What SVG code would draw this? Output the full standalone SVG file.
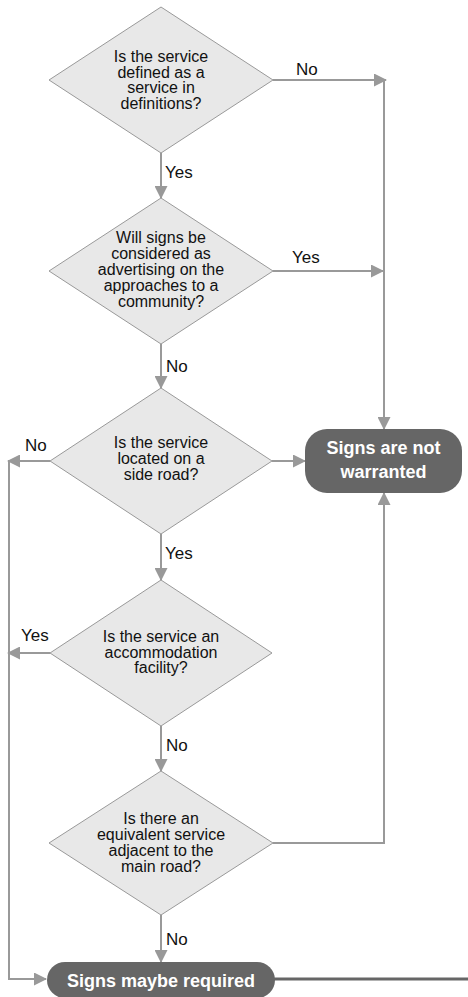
<svg xmlns="http://www.w3.org/2000/svg" width="468" height="997" viewBox="0 0 468 997">
<style>
.dia{fill:#e8e8e8;stroke:#999;stroke-width:1}
.dt{font-family:"Liberation Sans",Arial,sans-serif;font-size:16px;fill:#111;text-anchor:middle}
.term{fill:#666}
.tt{font-family:"Liberation Sans",Arial,sans-serif;font-size:18px;font-weight:bold;fill:#fff;text-anchor:middle}
.lbl{font-family:"Liberation Sans",Arial,sans-serif;font-size:17px;fill:#111}
.con{fill:none;stroke:#999;stroke-width:2}
</style>
<defs>
<marker id="ah" markerUnits="userSpaceOnUse" markerWidth="13" markerHeight="13" refX="12" refY="6.5" orient="auto">
<path d="M0,0 L13,6.5 L0,13 z" fill="#999"/>
</marker>
</defs>
<rect width="468" height="997" fill="#fff"/>
<g id="connectors">
<line class="con" x1="273" y1="80" x2="386" y2="80" marker-end="url(#ah)"/>
<line class="con" x1="161" y1="153" x2="161" y2="198" marker-end="url(#ah)"/>
<line class="con" x1="273" y1="271" x2="383" y2="271" marker-end="url(#ah)"/>
<line class="con" x1="384" y1="79" x2="384" y2="429" marker-end="url(#ah)"/>
<line class="con" x1="161" y1="344" x2="161" y2="388" marker-end="url(#ah)"/>
<line class="con" x1="272" y1="461" x2="305" y2="461" marker-end="url(#ah)"/>
<line class="con" x1="50" y1="461" x2="8" y2="461" marker-end="url(#ah)"/>
<polyline class="con" points="9,461 9,979 46,979" marker-end="url(#ah)"/>
<line class="con" x1="161" y1="534" x2="161" y2="580" marker-end="url(#ah)"/>
<line class="con" x1="50" y1="653" x2="8" y2="653" marker-end="url(#ah)"/>
<line class="con" x1="161" y1="726" x2="161" y2="771" marker-end="url(#ah)"/>
<polyline class="con" points="273,843 384,843 384,493" marker-end="url(#ah)"/>
<line class="con" x1="161" y1="915" x2="161" y2="962" marker-end="url(#ah)"/>
<line x1="274" y1="979" x2="468" y2="979" stroke="#666" stroke-width="3"/>
<text class="lbl" x="296" y="75">No</text>
<text class="lbl" x="165" y="178">Yes</text>
<text class="lbl" x="292" y="263">Yes</text>
<text class="lbl" x="166" y="372">No</text>
<text class="lbl" x="25" y="451">No</text>
<text class="lbl" x="165" y="559">Yes</text>
<text class="lbl" x="21" y="641">Yes</text>
<text class="lbl" x="166" y="751">No</text>
<text class="lbl" x="166" y="945">No</text>
</g>
<g id="d1">
<polygon class="dia" points="161,7 273,80 161,153 49,80"/>
<text class="dt" x="161" y="62">Is the service</text>
<text class="dt" x="161" y="77.5">defined as a</text>
<text class="dt" x="161" y="93">service in</text>
<text class="dt" x="161" y="108.5">definitions?</text>
</g>
<g id="d2">
<polygon class="dia" points="161,198 273,271 161,344 49,271"/>
<text class="dt" x="161" y="243">Will signs be</text>
<text class="dt" x="161" y="259">considered as</text>
<text class="dt" x="161" y="275">advertising on the</text>
<text class="dt" x="161" y="291">approaches to a</text>
<text class="dt" x="161" y="307">community?</text>
</g>
<g id="d3">
<polygon class="dia" points="161,388 272,461 161,534 50,461"/>
<text class="dt" x="161" y="448">Is the service</text>
<text class="dt" x="161" y="464">located on a</text>
<text class="dt" x="161" y="480">side road?</text>
</g>
<g id="d4">
<polygon class="dia" points="161,580 272,653 161,726 50,653"/>
<text class="dt" x="161" y="642">Is the service an</text>
<text class="dt" x="161" y="657.5">accommodation</text>
<text class="dt" x="161" y="673">facility?</text>
</g>
<g id="d5">
<polygon class="dia" points="161,771 273,843 161,915 49,843"/>
<text class="dt" x="161" y="823.5">Is there an</text>
<text class="dt" x="161" y="839.5">equivalent service</text>
<text class="dt" x="161" y="855.5">adjacent to the</text>
<text class="dt" x="161" y="871.5">main road?</text>
</g>
<g id="t1">
<rect class="term" x="305" y="429" width="157" height="64" rx="22"/>
<text class="tt" x="383.5" y="454">Signs are not</text>
<text class="tt" x="383.5" y="478">warranted</text>
</g>
<g id="t2">
<rect class="term" x="47" y="962" width="228" height="36" rx="18"/>
<text class="tt" x="161" y="987">Signs maybe required</text>
</g>
</svg>
